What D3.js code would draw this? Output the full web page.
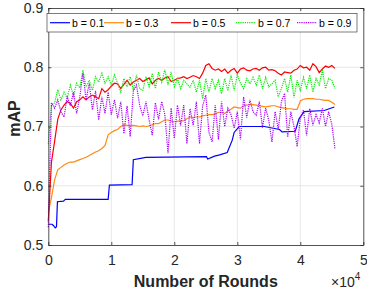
<!DOCTYPE html>
<html>
<head>
<meta charset="utf-8">
<script src="https://cdn.jsdelivr.net/npm/d3@7"></script>
<style>
  body { margin: 0; background: #fff; }
  svg { display: block; font-family: "Liberation Sans", Arial, sans-serif; }
</style>
</head>
<body>
<svg id="chart" width="367" height="291"></svg>
<script>
// rounds (in thousands) for the sampled curves
const roundsK = [0, 0.5, 1, 1.5, 2, 2.5, 3, 3.5, 4, 4.5, 5, 5.5, 6, 6.5, 7, 7.5, 8, 8.5, 9, 9.5,
  10, 10.5, 11, 11.5, 12, 12.5, 13, 13.5, 14, 14.5, 15, 15.5, 16, 16.5, 17, 17.5, 18, 18.5, 19, 19.5,
  20, 20.5, 21, 21.5, 22, 22.5, 23, 23.5, 24, 24.5, 25, 25.5, 26, 26.5, 27, 27.5, 28, 28.5, 29, 29.5,
  30, 30.5, 31, 31.5, 32, 32.5, 33, 33.5, 34, 34.5, 35, 35.5, 36, 36.5, 37, 37.5, 38, 38.5, 39, 39.5,
  40, 40.5, 41, 41.5, 42, 42.5, 43, 43.5, 44, 44.5, 45, 45.5];

// b = 0.1 is a step curve, so it keeps its own rounds
const b01Rounds = [0, 600, 800, 1100, 1300, 1450, 2400, 2700, 9500, 9700, 13300, 13500, 15500, 25100,
  25300, 26400, 27200, 28400, 29200, 29500, 30300, 34300, 36700, 37100, 39200, 39800, 40600, 43800, 45400];
const b01 = [0.535, 0.535, 0.533, 0.529, 0.531, 0.573, 0.574, 0.577, 0.577, 0.601, 0.602, 0.644, 0.648, 0.649,
  0.645, 0.650, 0.652, 0.656, 0.677, 0.69, 0.70, 0.70, 0.695, 0.691, 0.692, 0.713, 0.725, 0.727, 0.733];

const b03 = [0.555, 0.58, 0.61, 0.627, 0.631, 0.635, 0.638, 0.640, 0.640, 0.642,
  0.644, 0.646, 0.648, 0.651, 0.654, 0.657, 0.659, 0.663, 0.668, 0.686,
  0.690, 0.693, 0.695, 0.700, 0.703, 0.702, 0.701, 0.702, 0.701, 0.700,
  0.701, 0.700, 0.701, 0.703, 0.705, 0.705, 0.708, 0.711, 0.711, 0.709,
  0.708, 0.709, 0.709, 0.710, 0.713, 0.716, 0.715, 0.716, 0.716, 0.718,
  0.719, 0.720, 0.720, 0.721, 0.724, 0.724, 0.722, 0.726, 0.729, 0.733,
  0.732, 0.731, 0.735, 0.736, 0.737, 0.737, 0.736, 0.735, 0.734, 0.733,
  0.734, 0.735, 0.735, 0.733, 0.732, 0.731, 0.730, 0.730, 0.729, 0.729,
  0.743, 0.746, 0.747, 0.747, 0.747, 0.746, 0.746, 0.745, 0.744, 0.744,
  0.741, 0.737];

const b05 = [0.54, 0.64, 0.675, 0.712, 0.728, 0.736, 0.742, 0.739, 0.731, 0.742,
  0.745, 0.75, 0.745, 0.75, 0.753, 0.75, 0.747, 0.764, 0.758, 0.762,
  0.768, 0.773, 0.772, 0.764, 0.771, 0.778, 0.770, 0.775, 0.778, 0.781,
  0.776, 0.779, 0.782, 0.772, 0.778, 0.781, 0.778, 0.782, 0.784, 0.776,
  0.778, 0.781, 0.782, 0.784, 0.781, 0.783, 0.786, 0.784, 0.781, 0.79,
  0.803, 0.806, 0.798, 0.795, 0.797, 0.793, 0.797, 0.79, 0.795, 0.798,
  0.79, 0.797, 0.799, 0.795, 0.794, 0.797, 0.798, 0.795, 0.799, 0.800,
  0.795, 0.796, 0.794, 0.79, 0.787, 0.792, 0.791, 0.79, 0.795, 0.797,
  0.803, 0.799, 0.800, 0.795, 0.806, 0.801, 0.791, 0.797, 0.802, 0.800,
  0.803, 0.798];

const b07 = [0.67, 0.735, 0.74, 0.762, 0.745, 0.758, 0.748, 0.77, 0.752, 0.773,
  0.765, 0.795, 0.767, 0.778, 0.761, 0.784, 0.775, 0.79, 0.773, 0.784,
  0.77, 0.787, 0.773, 0.758, 0.781, 0.767, 0.784, 0.761, 0.787, 0.764,
  0.761, 0.784, 0.767, 0.79, 0.764, 0.792, 0.775, 0.796, 0.77, 0.792,
  0.767, 0.781, 0.764, 0.778, 0.772, 0.766, 0.778, 0.758, 0.778, 0.747,
  0.781, 0.758, 0.781, 0.764, 0.778, 0.755, 0.781, 0.76, 0.787, 0.761,
  0.787, 0.773, 0.764, 0.781, 0.772, 0.783, 0.77, 0.787, 0.764, 0.783,
  0.767, 0.772, 0.778, 0.75, 0.764, 0.781, 0.758, 0.787, 0.749, 0.778,
  0.761, 0.783, 0.764, 0.787, 0.758, 0.781, 0.77, 0.795, 0.764, 0.781,
  0.778, 0.764];

const b09 = [0.53, 0.74, 0.731, 0.745, 0.725, 0.716, 0.751, 0.735, 0.758, 0.722,
  0.75, 0.79, 0.745, 0.773, 0.728, 0.76, 0.711, 0.75, 0.722, 0.758,
  0.72, 0.745, 0.714, 0.742, 0.688, 0.735, 0.683, 0.76, 0.77, 0.736,
  0.718, 0.742, 0.711, 0.685, 0.74, 0.712, 0.742, 0.72, 0.655, 0.731,
  0.68, 0.736, 0.702, 0.736, 0.671, 0.73, 0.702, 0.742, 0.671, 0.735,
  0.753, 0.69, 0.674, 0.736, 0.678, 0.742, 0.70, 0.731, 0.72, 0.697,
  0.725, 0.678, 0.75, 0.715, 0.745, 0.725, 0.719, 0.742, 0.698, 0.731,
  0.71, 0.674, 0.725, 0.695, 0.742, 0.756, 0.682, 0.725, 0.70, 0.666,
  0.714, 0.728, 0.685, 0.73, 0.702, 0.72, 0.706, 0.731, 0.70, 0.725,
  0.704, 0.663];

const seriesNames = ['b = 0.1', 'b = 0.3', 'b = 0.5', 'b = 0.7', 'b = 0.9'];
const xTicks = [0, 10000, 20000, 30000, 40000, 50000];
const xTickLabels = ['0', '1', '2', '3', '4', '5'];
const yTicks = [0.5, 0.6, 0.7, 0.8, 0.9];

const svg = d3.select('#chart');
const plotLeft = 48.3, plotRight = 363.3, plotTop = 8, plotBottom = 245;
const ink = '#262626';

const x = d3.scaleLinear().domain([0, 50000]).range([plotLeft, plotRight]);
const y = d3.scaleLinear().domain([0.5, 0.9]).range([plotBottom, plotTop]);

// grid
const grid = svg.append('g');
grid.selectAll('.gx').data(xTicks.slice(1, -1)).enter().append('line')
  .attr('x1', d => x(d)).attr('x2', d => x(d))
  .attr('y1', plotTop).attr('y2', plotBottom)
  .attr('stroke', '#dedede').attr('stroke-width', 0.7);
grid.selectAll('.gy').data(yTicks.slice(1, -1)).enter().append('line')
  .attr('x1', plotLeft).attr('x2', plotRight)
  .attr('y1', d => y(d)).attr('y2', d => y(d))
  .attr('stroke', '#dedede').attr('stroke-width', 0.7);

// series
const series = [
  {name: seriesNames[0], xs: b01Rounds, ys: b01, color: '#0000ff', dash: null},
  {name: seriesNames[1], xs: roundsK.map(r => r * 1000), ys: b03, color: '#ff8a14', dash: null},
  {name: seriesNames[2], xs: roundsK.map(r => r * 1000), ys: b05, color: '#ff0000', dash: null},
  {name: seriesNames[3], xs: roundsK.map(r => r * 1000), ys: b07, color: '#00ee00', dash: '1.2,1'},
  {name: seriesNames[4], xs: roundsK.map(r => r * 1000), ys: b09, color: '#a800ff', dash: '1.2,1'}
];

const line = d3.line().x(d => x(d[0])).y(d => y(d[1]));
series.forEach(s => {
  svg.append('path')
    .datum(s.xs.map((r, i) => [r, s.ys[i]]))
    .attr('fill', 'none')
    .attr('stroke', s.color)
    .attr('stroke-width', 1.2)
    .attr('stroke-dasharray', s.dash)
    .attr('d', line);
});

// axes, ticks pointing inward like a boxed plot
const styleAxis = g => {
  g.select('.domain').attr('stroke', ink).attr('stroke-width', 0.8);
  g.selectAll('.tick line').attr('stroke', ink).attr('stroke-width', 0.8);
  g.selectAll('.tick text').attr('fill', ink).attr('font-size', 14);
};

svg.append('g').attr('transform', `translate(0,${plotBottom})`)
  .call(d3.axisBottom(x).tickValues(xTicks).tickFormat((d, i) => xTickLabels[i])
    .tickSizeInner(-3).tickSizeOuter(0).tickPadding(10))
  .call(styleAxis);
svg.append('g').attr('transform', `translate(0,${plotTop})`)
  .call(d3.axisTop(x).tickValues(xTicks).tickFormat('').tickSizeInner(-3).tickSizeOuter(0))
  .call(styleAxis);
svg.append('g').attr('transform', `translate(${plotLeft},0)`)
  .call(d3.axisLeft(y).tickValues(yTicks).tickFormat(d3.format('.1f'))
    .tickSizeInner(-3).tickSizeOuter(0).tickPadding(5))
  .call(styleAxis);
svg.append('g').attr('transform', `translate(${plotRight},0)`)
  .call(d3.axisRight(y).tickValues(yTicks).tickFormat('').tickSizeInner(-3).tickSizeOuter(0))
  .call(styleAxis);

// axis labels
svg.append('text')
  .attr('transform', 'translate(20,118.5) rotate(-90)')
  .attr('text-anchor', 'middle')
  .attr('font-size', 16).attr('font-weight', 'bold').attr('fill', ink)
  .text('mAP');
svg.append('text')
  .attr('x', 205.8).attr('y', 287)
  .attr('text-anchor', 'middle')
  .attr('font-size', 16).attr('font-weight', 'bold').attr('fill', ink)
  .text('Number of Rounds');
const mult = svg.append('text').attr('x', 331).attr('y', 287)
  .attr('font-size', 14).attr('fill', ink);
mult.append('tspan').text('\u00d710');
mult.append('tspan').attr('dy', -7).attr('font-size', 10).text('4');

// legend
const legendX = [50, 104, 171, 236, 297];
const legend = svg.append('g');
legend.append('rect')
  .attr('x', 47).attr('y', 13.5).attr('width', 310).attr('height', 18.5)
  .attr('fill', '#fff').attr('stroke', ink).attr('stroke-width', 0.6);
series.forEach((s, i) => {
  const lx = legendX[i];
  legend.append('line')
    .attr('x1', lx).attr('x2', lx + 20).attr('y1', 22.7).attr('y2', 22.7)
    .attr('stroke', s.color).attr('stroke-width', 1.2)
    .attr('stroke-dasharray', s.dash);
  legend.append('text')
    .attr('x', lx + 22).attr('y', 26.5)
    .attr('font-size', 10.5).attr('fill', '#000')
    .text(s.name);
});
</script>
</body>
</html>
